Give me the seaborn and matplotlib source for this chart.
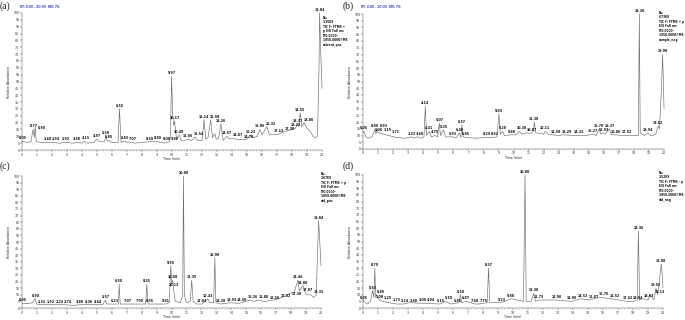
import numpy as np
import pandas as pd
import matplotlib
matplotlib.use("Agg")
import matplotlib.pyplot as plt
import seaborn as sns

sns.set_theme(style="white")
plt.rcParams['font.family'] = ['DejaVu Sans']

# ---------------- data ----------------
a_time = [0.0, 0.05, 0.3, 0.6, 0.72, 0.77, 0.82, 0.88, 0.95, 1.2, 1.68, 1.94, 2.5, 2.92, 3.4, 3.68, 4.0, 4.15, 4.3,
          4.8, 4.97, 5.15, 5.5, 5.58, 5.68, 5.80, 6.0, 6.4, 6.50, 6.6, 6.83, 7.0, 7.07, 7.5, 8.50, 8.80, 9.08, 9.5,
          9.82, 9.9, 9.97, 10.05, 10.12, 10.17, 10.3, 10.49, 10.6, 10.8, 11.06, 11.3, 11.54, 11.7, 12.0, 12.14,
          12.25, 12.4, 12.58, 12.7, 12.85, 12.95, 13.1, 13.26, 13.4, 13.67, 13.8, 14.07, 14.4, 14.78, 15.0, 15.22,
          15.4, 15.7, 15.86, 16.0, 16.32, 16.5, 17.13, 17.38, 17.7, 18.0, 18.23, 18.37, 18.45, 18.55, 18.65, 18.80,
          19.0, 19.2, 19.4, 19.55, 19.7, 19.80, 19.84, 19.92, 20.0]
a_abund = [5.5, 6.5, 5.5, 6, 14, 15, 9, 17, 6, 5.5, 5.5, 5.5, 5, 5.5, 5, 5.5, 5, 6.5, 5,
           5.5, 8, 6, 6, 10, 6.5, 7, 5.5, 5.5, 30, 5.5, 6.5, 5.5, 6, 5, 6, 6.5, 6, 5,
           6, 10, 54, 25, 18, 21, 8, 11, 7, 6.5, 8, 7, 9.5, 7, 7, 22,
           8, 9, 22, 9, 12, 8, 8, 19, 7, 10, 8, 8.5, 7.5, 7.5, 8, 11,
           9, 10, 15, 11, 17, 11, 11.5, 13, 14, 15, 16, 19, 17, 27, 17, 20,
           16, 14, 10, 9, 10, 60, 100, 70, 45]
a_peaks = [0.05, 0.77, 0.90, 1.68, 1.94, 2.92, 3.68, 4.15, 4.97, 5.58, 5.80, 6.50, 6.83, 7.07, 8.50, 8.80, 9.08,
           9.82, 9.97, 10.17, 10.49, 11.06, 11.54, 12.14, 12.58, 13.26, 13.67, 14.07, 14.78, 15.22, 15.86, 16.32,
           17.13, 17.38, 18.23, 18.37, 18.55, 18.80, 19.84]

b_time = [0.0, 0.05, 0.2, 0.35, 0.6, 0.75, 0.80, 0.86, 0.93, 1.0, 1.06, 1.19, 1.5, 1.71, 2.2, 2.8, 3.23, 3.4, 3.60,
          3.9, 4.05, 4.14, 4.22, 4.41, 4.55, 4.79, 4.95, 5.07, 5.15, 5.35, 5.5, 5.93, 6.22, 6.40, 6.50, 6.57, 6.65,
          6.85, 7.5, 8.2, 8.62, 8.9, 9.03, 9.12, 9.28, 9.4, 9.88, 10.2, 10.38, 10.55, 10.87, 11.1, 11.32, 11.38,
          11.48, 12.0, 12.11, 12.3, 12.58, 13.0, 13.29, 14.0, 14.33, 14.8, 15.27, 15.5, 15.70, 15.8, 15.93, 16.1,
          16.37, 16.5, 16.80, 17.2, 17.52, 18.0, 18.3, 18.36, 18.42, 18.7, 18.94, 19.1, 19.25, 19.45, 19.55, 19.62,
          19.7, 19.85, 19.90, 19.95, 20.0]
b_abund = [12, 13, 9, 8, 9, 13, 15, 11, 15, 12, 12, 11.5, 10.5, 10, 8.5, 8, 9, 8, 9,
           8, 9, 32, 10, 13, 9, 10, 9, 19, 10, 14, 9, 9, 8.5, 12, 8.5, 18, 9,
           8.5, 8, 8.5, 8.5, 9, 26, 11, 13, 10, 10.5, 10.5, 13, 11, 12, 11.5, 13, 20,
           12, 11, 13, 11, 10.5, 10, 10.5, 10, 10, 10, 11, 10, 15, 11, 12, 11,
           15, 10.5, 10.5, 10, 10, 10, 10, 100, 12, 10, 12, 10, 10, 11, 15, 17,
           15, 50, 70, 55, 30]
b_peaks = [0.05, 0.80, 0.93, 1.06, 1.19, 1.71, 3.23, 3.60, 4.14, 4.41, 4.79, 5.07, 5.35, 5.93, 6.40, 6.57, 6.85,
           8.20, 8.62, 9.03, 9.28, 9.88, 10.38, 10.87, 11.38, 12.11, 12.58, 13.29, 14.33, 15.27, 15.70, 15.93,
           16.37, 16.80, 17.52, 18.36, 18.94, 19.62, 19.90]

c_time = [0.0, 0.05, 0.5, 0.7, 0.90, 0.97, 1.32, 1.92, 2.24, 2.74, 3.5, 3.88, 4.36, 4.64, 5.4, 5.57, 5.65, 6.23,
          6.45, 6.50, 6.57, 7.07, 7.90, 8.27, 8.35, 8.43, 8.55, 9.61, 9.85, 9.95, 10.02, 10.08, 10.13, 10.25, 10.6,
          10.75, 10.80, 10.86, 11.0, 11.25, 11.35, 11.45, 11.7, 12.04, 12.43, 12.55, 12.82, 12.90, 12.97, 13.28,
          13.93, 14.50, 15.26, 15.5, 15.80, 16.2, 16.56, 17.02, 17.38, 17.6, 17.87, 18.2, 18.46, 18.55, 18.80,
          19.0, 19.33, 19.5, 19.68, 19.84, 19.92, 20.0]
c_abund = [3, 3.5, 3.5, 4, 7, 3, 2.5, 2.5, 2.5, 2.5, 2, 2.5, 2.5, 2.5, 2.5, 6, 3, 3,
           3, 18, 3, 3, 3, 3, 18, 3, 3, 3, 4, 32, 18, 21, 15, 5, 4,
           10, 100, 10, 4, 5, 21, 5, 3, 3, 7, 4, 4, 38, 4, 3,
           4, 3.5, 6, 5, 6, 5, 5.5, 6.5, 8, 9, 11, 12, 21, 13, 17,
           10, 10, 8, 10, 66, 50, 32]
c_peaks = [0.05, 0.90, 1.32, 1.92, 2.24, 2.74, 3.88, 4.36, 4.64, 5.57, 6.23, 6.50, 7.07, 7.90, 8.35, 8.55, 9.61,
           9.95, 10.08, 10.13, 10.80, 11.35, 12.04, 12.43, 12.90, 13.28, 13.93, 14.50, 15.26, 15.80, 16.56, 17.02,
           17.38, 17.87, 18.46, 18.80, 19.33, 19.84]

d_time = [0.0, 0.05, 0.3, 0.5, 0.63, 0.72, 0.79, 0.84, 0.89, 1.08, 1.29, 1.73, 2.24, 2.68, 3.09, 4.04, 5.15, 5.50,
          5.85, 6.40, 6.50, 6.58, 6.87, 7.48, 7.75, 8.28, 8.37, 8.45, 9.23, 9.88, 10.70, 10.80, 10.88, 11.2, 11.38,
          11.5, 11.73, 12.90, 13.90, 14.52, 15.07, 15.76, 16.52, 17.62, 18.04, 18.28, 18.36, 18.44, 18.63, 19.0,
          19.13, 19.4, 19.53, 19.65, 19.88, 19.95, 20.0]
d_abund = [7, 5, 3, 5, 13, 8, 30, 8, 10, 6, 5, 4, 3, 3, 4, 3.5, 3, 5,
           3, 4, 10, 4, 5, 3, 3, 4, 30, 4, 4, 7, 5, 100, 5, 5, 11,
           5, 6, 6, 5, 7, 6, 8, 7, 5, 5, 6, 58, 6, 7, 6,
           10, 6, 15, 10, 33, 25, 15]
d_peaks = [0.05, 0.63, 0.79, 0.89, 1.08, 1.29, 1.73, 2.24, 2.68, 3.09, 4.04, 5.15, 5.50, 5.85, 6.50, 6.87, 7.48,
           7.75, 8.37, 9.23, 9.88, 10.80, 11.38, 11.73, 12.90, 13.90, 14.52, 15.07, 15.76, 16.52, 17.62, 18.04,
           18.36, 18.63, 19.13, 19.53, 19.88]

panel_tags = ["(a)", "(b)", "(c)", "(d)"]
info_texts = [
    "NL:\n1.35E9\nTIC F: FTMS +\np ESI Full ms\n[70.0000-\n1050.0000] MS\nsolvent_pos",
    "NL:\n6.73E8\nTIC F: FTMS + p\nESI Full ms\n[70.0000-\n1050.0000] MS\nsample_neg",
    "NL:\n3.67E9\nTIC F: FTMS + p\nESI Full ms\n[70.0000-\n1050.0000] MS\nstd_pos",
    "NL:\n1.52E9\nTIC F: FTMS - p\nESI Full ms\n[70.0000-\n1050.0000] MS\nstd_neg",
]
header_text = "RT: 0.00 - 20.00  SM: 7G"

panels = [
    (a_time, a_abund, a_peaks),
    (b_time, b_abund, b_peaks),
    (c_time, c_abund, c_peaks),
    (d_time, d_abund, d_peaks),
]

# ---------------- layout ----------------
W, H = 685, 320
fig = plt.figure(figsize=(W / 100, H / 100), dpi=100)
# (left px, right px, y0 px, y100 px)
boxes = [(22, 322, 150, 13), (363, 664, 149, 14), (22, 321, 308, 176), (363, 663, 308, 175)]
tag_pos = [(0, 1), (343, 1), (0, 161), (343, 161)]
info_pos = [(323, 16), (659, 11), (321, 172), (659, 171)]

fs = 2.3
line_col = "#6e6e6e"
all_labels = []
for i, (t, y, pk) in enumerate(panels):
    l, r, y0, y1 = boxes[i]
    ax = fig.add_axes([l / W, 1 - y0 / H, (r - l) / W, (y0 - y1) / H])
    df = pd.DataFrame({"Time (min)": t, "Relative Abundance": y})
    sns.lineplot(data=df, x="Time (min)", y="Relative Abundance", ax=ax, color=line_col,
                 linewidth=0.45, estimator=None, sort=False, clip_on=False)
    ax.set_xlim(0, 20)
    ax.set_ylim(0, 100)
    for s in ["top", "right"]:
        ax.spines[s].set_visible(False)
    for s in ["left", "bottom"]:
        ax.spines[s].set_linewidth(0.35)
        ax.spines[s].set_color("#555555")
    ax.set_xticks(np.arange(0, 21, 1))
    ax.set_xticks(np.arange(0, 20.01, 0.2), minor=True)
    ax.set_yticks(np.arange(0, 101, 5))
    ax.tick_params(axis="both", which="major", labelsize=fs, length=1.2, width=0.3, pad=0.6,
                   colors="#333333", direction="out", bottom=True, left=True)
    ax.tick_params(axis="both", which="minor", length=0.6, width=0.25, colors="#555555", bottom=True)
    ax.set_xlabel("Time (min)", fontsize=fs, labelpad=0.4)
    ax.set_ylabel("Relative Abundance", fontsize=fs, labelpad=1.5)
    # peak labels
    texts = []
    for p in pk:
        yv = float(np.interp(p, t, y))
        tx = ax.text(p, yv + 0.8, f"{p:.2f}", fontsize=fs, fontweight="bold", ha="center", va="bottom",
                     color="#111111", clip_on=False)
        texts.append(tx)
    all_labels.append((ax, texts))
    # header
    fig.text((l - 2) / W, 1 - 7 / H, header_text, fontsize=fs, color="#4a4ad0",
             ha="left", va="center")
    # panel tag
    tx, ty = tag_pos[i]
    fig.text(tx / W, 1 - ty / H, panel_tags[i], fontsize=7, family="Liberation Serif",
             ha="left", va="top", color="#222222")
    # info block
    ix, iy = info_pos[i]
    fig.text(ix / W, 1 - iy / H, info_texts[i], fontsize=2.1, fontweight="bold", ha="left", va="top",
             linespacing=1.15, color="#111111")

# simple left-to-right collision avoidance for peak labels (as the instrument software does)
fig.canvas.draw()
renderer = fig.canvas.get_renderer()
for ax, texts in all_labels:
    placed = []
    inv = ax.transData.inverted()
    for tx in texts:
        for _ in range(40):
            bb = tx.get_window_extent(renderer).expanded(1.0, 1.0)
            hit = None
            for pb in placed:
                if bb.overlaps(pb):
                    hit = pb
                    break
            if hit is None:
                break
            dx_px = hit.x1 - bb.x0 + 0.6
            x_disp, y_disp = ax.transData.transform(tx.get_position())
            nx, ny = inv.transform((x_disp + dx_px, y_disp))
            tx.set_position((nx, ny))
        placed.append(tx.get_window_extent(renderer))

fig.savefig("out.png", dpi=100)
